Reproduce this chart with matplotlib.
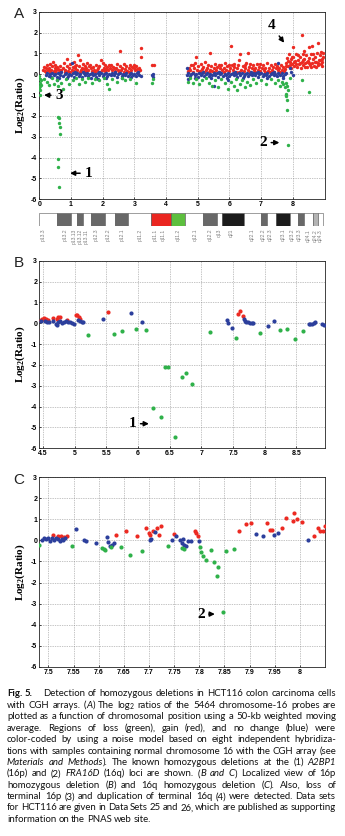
import re
import matplotlib
matplotlib.use("Agg")
import matplotlib.pyplot as plt

### data ###

# panel A: whole chromosome 16, log2 ratio per probe (x in 10 Mb)
a_red = [
    (0.12, 0.20), (0.15, 0.35), (0.18, 0.15), (0.21, 0.28), (0.24, 0.42), (0.27, 0.18), (0.30, 0.30), (0.33, 0.50),
    (0.36, 0.22), (0.39, 0.38), (0.42, 0.60), (0.45, 0.15), (0.48, 0.32), (0.51, 0.45), (0.54, 0.20), (0.57, 0.35),
    (0.60, 0.25), (0.63, 0.12), (0.66, 0.40), (0.70, 0.18), (0.74, 0.30), (0.78, 0.55), (0.82, 0.22), (0.86, 0.40),
    (0.88, 0.75), (0.90, 0.15), (0.94, 0.32), (0.98, 0.48), (1.02, 0.20), (1.05, 0.35), (1.08, 0.60), (1.11, 0.15),
    (1.14, 0.28), (1.17, 0.45), (1.20, 0.22), (1.23, 0.90), (1.25, 0.38), (1.28, 0.70), (1.31, 0.18), (1.34, 0.30),
    (1.37, 0.50), (1.40, 0.25), (1.43, 0.40), (1.46, 0.15), (1.49, 0.32), (1.52, 0.55), (1.55, 0.20), (1.58, 0.38),
    (1.62, 0.28), (1.66, 0.15), (1.70, 0.35), (1.74, 0.22), (1.78, 0.45), (1.82, 0.18), (1.86, 0.30), (1.90, 0.40),
    (1.94, 0.70), (1.97, 0.20), (2.00, 0.55), (2.03, 0.32), (2.06, 0.15), (2.09, 0.42), (2.12, 0.25), (2.15, 0.35),
    (2.18, 0.18), (2.22, 0.28), (2.26, 0.45), (2.30, 0.20), (2.34, 0.35), (2.38, 0.15), (2.42, 0.30), (2.46, 0.48),
    (2.50, 0.22), (2.54, 0.38), (2.56, 1.10), (2.58, 0.18), (2.62, 0.32), (2.66, 0.50), (2.70, 0.25), (2.74, 0.40),
    (2.78, 0.15), (2.82, 0.30), (2.86, 0.45), (2.90, 0.20), (2.94, 0.35), (2.98, 0.28), (3.02, 0.18), (3.06, 0.40),
    (3.10, 0.25), (3.14, 0.32), (3.18, 0.20), (3.20, 1.25), (3.22, 0.85), (3.55, 0.45), (3.62, 0.42),
    (0.20, 0.10), (0.35, 0.12), (0.50, 0.10), (0.65, 0.22), (0.80, 0.12), (0.96, 0.10), (1.12, 0.40), (1.27, 0.12),
    (1.42, 0.10), (1.60, 0.45), (1.75, 0.10), (1.92, 0.12), (2.05, 0.22), (2.20, 0.45), (2.36, 0.28), (2.52, 0.12),
    (2.68, 0.12), (2.84, 0.10), (3.00, 0.45), (3.12, 0.12),
    (4.68, 0.15), (4.72, 0.30), (4.76, 0.20), (4.80, 0.42), (4.84, 0.12), (4.88, 0.28), (4.92, 0.55), (4.95, 0.85),
    (4.98, 0.22), (5.02, 0.38), (5.06, 0.15), (5.10, 0.50), (5.14, 0.25), (5.18, 0.35), (5.22, 0.60), (5.26, 0.18),
    (5.30, 0.30), (5.34, 0.45), (5.38, 0.22), (5.40, 1.00), (5.42, 0.38), (5.46, 0.15), (5.50, 0.32), (5.54, 0.50),
    (5.58, 0.20), (5.62, 0.35), (5.66, 0.12), (5.70, 0.28), (5.74, 0.42), (5.78, 0.18), (5.82, 0.30), (5.86, 0.55),
    (5.90, 0.22), (5.94, 0.38), (5.98, 0.15), (6.02, 0.30), (6.06, 1.35), (6.08, 0.45), (6.12, 0.20), (6.16, 0.35),
    (6.20, 0.12), (6.24, 0.28), (6.28, 0.45), (6.32, 0.70), (6.35, 0.95), (6.38, 0.22), (6.42, 0.38), (6.46, 0.15),
    (6.50, 0.30), (6.54, 0.55), (6.58, 0.20), (6.60, 1.00), (6.62, 0.35), (6.66, 0.12), (6.70, 0.28), (6.74, 0.42),
    (6.78, 0.18), (6.82, 0.30), (6.86, 0.50), (6.90, 0.22), (6.94, 0.35), (6.98, 0.15), (7.02, 0.28), (7.06, 0.42),
    (7.10, 0.20), (7.14, 0.32), (7.18, 0.55), (7.22, 0.15), (7.26, 0.30), (7.30, 0.45), (7.34, 0.20), (7.38, 0.35),
    (7.42, 0.12), (7.46, 0.28), (7.50, 0.40), (7.54, 0.18), (7.58, 0.30), (7.62, 0.45), (7.66, 0.22), (7.70, 0.35),
    (7.74, 0.15), (7.78, 0.40),
    (4.70, 0.10), (4.86, 0.45), (5.04, 0.12), (5.20, 0.12), (5.36, 0.10), (5.52, 0.12), (5.68, 0.45), (5.84, 0.10),
    (6.00, 0.45), (6.14, 0.50), (6.30, 0.10), (6.48, 0.45), (6.64, 0.48), (6.80, 0.10), (6.96, 0.48), (7.12, 0.10),
    (7.28, 0.12), (7.44, 0.48), (7.60, 0.12), (7.76, 0.25),
    (7.80, 0.55), (7.83, 0.80), (7.86, 0.40), (7.88, 0.95), (7.91, 0.60), (7.94, 0.30), (7.96, 0.75), (7.99, 0.50),
    (8.00, 1.30), (8.02, 0.85), (8.05, 0.40), (8.08, 0.65), (8.10, 0.95), (8.13, 0.35), (8.16, 0.70), (8.19, 0.50),
    (8.22, 0.85), (8.25, 0.30), (8.28, 0.60), (8.30, 1.90), (8.31, 0.95), (8.34, 0.45), (8.37, 0.75), (8.40, 0.55),
    (8.43, 0.90), (8.46, 0.35), (8.49, 0.65), (8.50, 1.30), (8.52, 0.80), (8.55, 0.45), (8.58, 0.95), (8.60, 1.35),
    (8.61, 0.55), (8.64, 0.75), (8.67, 0.40), (8.70, 0.85), (8.73, 0.60), (8.76, 1.00), (8.79, 0.45), (8.80, 1.50),
    (8.82, 0.70), (8.85, 0.90), (8.88, 0.50), (8.91, 0.75), (8.94, 0.60), (8.97, 0.85),
    (7.85, 0.65), (7.92, 0.45), (7.98, 0.85), (8.04, 0.60), (8.11, 0.50), (8.18, 0.90), (8.24, 0.55), (8.33, 0.70),
    (8.39, 0.35), (8.45, 0.60), (8.53, 0.55), (8.57, 0.35), (8.63, 0.95), (8.69, 0.60), (8.75, 0.35), (8.81, 0.55),
    (8.87, 0.70), (8.93, 0.40), (8.96, 1.00), (8.35, 1.10), (8.90, 1.05),
]
a_blue = [
    (0.20, -0.05), (0.25, 0.05), (0.30, -0.10), (0.35, 0.00), (0.40, 0.08), (0.45, -0.05), (0.50, 0.02), (0.55, -0.12),
    (0.60, 0.05), (0.65, -0.02), (0.70, 0.10), (0.75, -0.08), (0.80, 0.00), (0.85, 0.05), (0.90, -0.10), (0.95, 0.02),
    (1.00, -0.05), (1.04, 0.52), (1.05, 0.08), (1.10, -0.12), (1.15, 0.00), (1.20, 0.05), (1.25, -0.08), (1.30, 0.02),
    (1.35, -0.15), (1.40, 0.05), (1.45, -0.02), (1.50, 0.08), (1.55, -0.10), (1.60, 0.00), (1.65, 0.05), (1.70, -0.05),
    (1.75, 0.02), (1.80, -0.12), (1.85, 0.05), (1.90, -0.02), (1.95, 0.08), (2.00, -0.08), (2.05, 0.00), (2.10, 0.05),
    (2.15, -0.10), (2.20, 0.02), (2.25, -0.05), (2.30, 0.08), (2.35, -0.02), (2.40, 0.05), (2.45, -0.12), (2.50, 0.00),
    (2.55, 0.05), (2.60, -0.08), (2.65, 0.02), (2.70, -0.05), (2.75, 0.08), (2.80, -0.10), (2.85, 0.00), (2.90, 0.05),
    (2.95, -0.05), (3.00, 0.02), (3.05, -0.10), (3.10, 0.05), (3.15, -0.02), (3.20, -0.08), (3.55, -0.05), (3.60, 0.00),
    (3.58, -0.12),
    (0.38, -0.15), (0.62, -0.18), (0.88, -0.18), (1.12, 0.12), (1.38, 0.10), (1.62, -0.18), (1.88, 0.12), (2.12, -0.18),
    (2.38, 0.12), (2.62, -0.18), (2.88, -0.15), (3.12, 0.10), (0.55, -0.30), (1.85, -0.25),
    (4.65, 0.30), (4.66, -0.05), (4.70, 0.05), (4.75, -0.10), (4.80, 0.00), (4.85, 0.08), (4.90, -0.05), (4.95, 0.02),
    (5.00, -0.12), (5.05, 0.05), (5.10, -0.02), (5.15, 0.08), (5.20, -0.08), (5.25, 0.00), (5.30, 0.05), (5.35, -0.10),
    (5.40, 0.02), (5.45, -0.05), (5.50, 0.08), (5.55, -0.02), (5.60, 0.05), (5.65, -0.12), (5.70, 0.00), (5.75, 0.05),
    (5.80, -0.08), (5.85, 0.02), (5.90, -0.05), (5.95, 0.08), (6.00, -0.10), (6.05, 0.00), (6.10, 0.05), (6.15, -0.05),
    (6.20, 0.02), (6.25, -0.12), (6.30, 0.05), (6.35, -0.02), (6.40, 0.08), (6.45, -0.08), (6.50, 0.00), (6.55, 0.05),
    (6.60, -0.10), (6.65, 0.02), (6.70, -0.05), (6.75, 0.08), (6.80, -0.02), (6.85, 0.05), (6.90, -0.12), (6.95, 0.00),
    (7.00, 0.05), (7.05, -0.08), (7.10, 0.02), (7.15, -0.05), (7.20, 0.08), (7.25, -0.10), (7.30, 0.00), (7.35, 0.05),
    (7.40, -0.05), (7.45, 0.02), (7.50, -0.08), (7.54, 0.55), (7.55, 0.05), (7.60, -0.02), (7.65, 0.08), (7.70, -0.10),
    (7.75, 0.00), (7.80, 0.05), (7.90, 0.30), (7.95, 0.10), (8.00, -0.05),
    (4.68, -0.25), (4.92, -0.18), (5.18, 0.12), (5.42, -0.18), (5.68, 0.12), (5.92, -0.18), (6.18, 0.12), (6.42, -0.18),
    (6.68, 0.12), (6.92, 0.12), (7.18, -0.18), (7.42, 0.12), (7.68, -0.18), (5.50, -0.55), (5.95, -0.30),
]
a_green = [
    (0.00, -0.10), (0.02, -0.25), (0.01, -0.40), (0.03, -0.55), (0.00, -0.65), (0.02, -0.75), (0.04, -0.30), (0.05, -0.50),
    (0.01, -1.00),
    (0.15, -0.25), (0.25, -0.35), (0.30, -0.50), (0.40, -0.20), (0.45, -0.45), (0.55, -0.30), (0.60, -0.55), (0.70, -0.40),
    (0.75, -0.70), (0.85, -0.25), (0.95, -0.45), (1.05, -0.30), (1.15, -0.20), (1.25, -0.45), (1.35, -0.25), (1.45, -0.35),
    (1.55, -0.20), (1.65, -0.40), (1.75, -0.25), (1.90, -0.30), (2.05, -0.20), (2.15, -0.45), (2.20, -0.70), (2.30, -0.25),
    (2.45, -0.35), (2.60, -0.20), (2.70, -0.30), (2.85, -0.25), (3.05, -0.40), (3.55, -0.40), (3.58, -0.25),
    (0.60, -2.05), (0.62, -2.10), (0.63, -2.35), (0.64, -2.55), (0.66, -2.85), (0.60, -4.05), (0.60, -4.45), (0.62, -5.40),
    (4.70, -0.35), (4.75, -0.20), (4.85, -0.40), (4.95, -0.25), (5.05, -0.45), (5.15, -0.30), (5.25, -0.20), (5.35, -0.40),
    (5.45, -0.55), (5.55, -0.30), (5.65, -0.60), (5.75, -0.25), (5.85, -0.40), (5.95, -0.70), (6.05, -0.35), (6.15, -0.55),
    (6.20, -0.25), (6.25, -0.75), (6.35, -0.45), (6.40, -0.30), (6.50, -0.60), (6.55, -0.35), (6.65, -0.50), (6.75, -0.25),
    (6.85, -0.40), (7.00, -0.30), (7.15, -0.45), (7.30, -0.25), (7.45, -0.40), (7.55, -0.30), (7.60, -0.55), (7.65, -0.35),
    (7.70, -0.45), (7.75, -0.60), (7.80, -0.40), (7.82, -0.55), (7.84, -0.75), (7.78, -0.95), (7.80, -1.05), (7.83, -1.25),
    (7.82, -1.70), (7.84, -3.40), (8.30, -0.30), (8.50, -0.85), (7.90, -0.20),
]

# panel B: 16p homozygous deletion (A2BP1)
b_red = [
    (4.46, 0.18), (4.49, 0.22), (4.52, 0.25), (4.55, 0.20), (4.58, 0.15), (4.66, 0.25), (4.72, 0.22), (4.74, 0.32),
    (4.76, 0.28), (4.88, 0.15), (5.02, 0.42), (5.04, 0.38), (5.06, 0.30), (5.08, 0.20), (5.52, 0.52),
    (7.58, 0.45), (7.61, 0.60), (7.65, 0.35),
]
b_blue = [
    (4.47, 0.10), (4.53, 0.12), (4.56, 0.08), (4.60, 0.05), (4.66, 0.10), (4.70, -0.05), (4.72, -0.10), (4.74, 0.05),
    (4.77, 0.12), (4.80, 0.00), (4.83, 0.05), (4.86, 0.10), (4.90, 0.08), (4.93, 0.05), (4.96, 0.00), (4.98, -0.05),
    (5.05, 0.15), (5.08, 0.10), (5.11, 0.05), (5.13, 0.05), (5.45, 0.22), (5.88, 0.48), (6.06, 0.05),
    (7.40, 0.17), (7.42, 0.03), (7.48, -0.24), (7.67, 0.20), (7.69, 0.12), (7.71, 0.08), (7.73, 0.04), (7.76, 0.02),
    (7.79, 0.00), (7.81, 0.00), (8.05, -0.13), (8.15, 0.10), (8.69, -0.02), (8.72, -0.05), (8.75, -0.03), (8.77, 0.02),
    (8.79, 0.05), (8.90, -0.05), (8.93, -0.09),
]
b_green = [
    (5.21, -0.57), (5.62, -0.53), (5.75, -0.35), (5.96, -0.27), (6.13, -0.30), (6.24, -4.08), (6.36, -4.48),
    (6.43, -2.12), (6.47, -2.08), (6.59, -5.48), (6.70, -2.58), (6.76, -2.40), (6.85, -2.90), (7.14, -0.40),
    (7.54, -0.72), (7.92, -0.47), (8.24, -0.30), (8.35, -0.25), (8.48, -0.76), (8.60, -0.35),
]

# panel C: 16q homozygous deletion (FRA16D)
c_red = [
    (7.510, 0.27), (7.520, 0.20), (7.526, 0.22), (7.531, 0.18), (7.537, 0.20), (7.634, 0.24), (7.654, 0.43),
    (7.677, 0.20), (7.694, 0.58), (7.700, 0.35), (7.703, 0.28), (7.709, 0.43), (7.716, 0.58), (7.719, 0.27),
    (7.724, 0.68), (7.750, 0.31), (7.791, 0.45), (7.794, 0.35), (7.797, 0.23), (7.880, 0.43), (7.893, 0.79),
    (7.902, 0.85), (7.934, 0.85), (7.940, 0.50), (7.945, 0.48), (7.964, 0.60), (7.972, 1.05), (7.986, 0.90),
    (7.989, 1.29), (7.995, 1.00), (8.005, 0.87), (8.028, 0.20), (8.036, 0.60), (8.041, 0.45), (8.046, 0.45),
    (8.050, 0.68),
]
c_blue = [
    (7.488, 0.00), (7.492, 0.10), (7.496, 0.05), (7.500, 0.12), (7.504, -0.02), (7.508, 0.10), (7.512, 0.00),
    (7.516, 0.12), (7.520, 0.05), (7.524, -0.05), (7.527, 0.08), (7.530, 0.00), (7.534, 0.10), (7.555, 0.52),
    (7.570, 0.02), (7.575, -0.05), (7.594, -0.12), (7.616, 0.14), (7.618, -0.08), (7.623, -0.25), (7.627, -0.20),
    (7.631, -0.10), (7.702, 0.02), (7.705, 0.08), (7.712, 0.40), (7.745, 0.02), (7.753, 0.22), (7.762, 0.00),
    (7.765, -0.10), (7.768, 0.05), (7.770, -0.20), (7.773, -0.25), (7.777, -0.05), (7.783, -0.02), (7.800, -0.03),
    (7.913, 0.30), (7.926, 0.20), (7.949, 0.25), (7.957, 0.35), (8.017, 0.00),
]
c_green = [
    (7.482, -0.20), (7.548, -0.25), (7.606, -0.37), (7.611, -0.42), (7.613, -0.45), (7.625, -0.30), (7.645, -0.30),
    (7.662, -0.67), (7.686, -0.48), (7.738, -0.25), (7.765, -0.35), (7.770, -0.40), (7.801, -0.30), (7.804, -0.55),
    (7.808, -0.73), (7.813, -0.92), (7.823, -0.45), (7.830, -1.02), (7.837, -1.24), (7.835, -1.70), (7.847, -3.38),
    (7.854, -0.50), (7.869, -0.40),
]

# chromosome 16 ideogram (same x scale as panel A)
band_starts = [0.00, 0.57, 0.99, 1.20, 1.39, 1.62, 2.07, 2.39, 2.81, 3.52, 4.15, 4.60,
               5.16, 5.60, 5.76, 6.46, 6.99, 7.20, 7.47, 7.92, 8.16, 8.36, 8.63, 8.81]
band_ends = [0.57, 0.99, 1.20, 1.39, 1.62, 2.07, 2.39, 2.81, 3.52, 4.15, 4.60, 5.16,
             5.60, 5.76, 6.46, 6.99, 7.20, 7.47, 7.92, 8.16, 8.36, 8.63, 8.81, 8.97]
band_stains = ["gneg", "gpos75", "gneg", "gpos75", "gneg", "gpos75", "gneg", "gpos75", "gneg", "acen_p", "acen_q", "gneg",
               "gpos75", "gneg", "gpos100", "gneg", "gpos75", "gneg", "gpos100", "gneg", "gpos75", "gneg", "gpos25", "gneg"]
band_names = ["p13.3", "p13.2", "p13.13", "p13.12", "p13.11", "p12.3", "p12.2", "p12.1", "p11.2", "p11.1", "q11.1",
              "q11.2", "q12.1", "q12.2", "q13", "q21", "q22.1", "q22.2", "q22.3", "q23.1", "q23.2", "q23.3",
              "q24.1", "q24.2", "q24.3"]
band_name_x = [0.13, 0.81, 1.10, 1.29, 1.47, 1.81, 2.18, 2.60, 3.18, 3.65, 3.92, 4.39, 4.92, 5.41, 5.68,
               6.07, 6.71, 7.07, 7.28, 7.69, 8.00, 8.21, 8.49, 8.71, 8.86]

a_xticks = [0, 1, 2, 3, 4, 5, 6, 7, 8]
b_xticks = [4.5, 5, 5.5, 6, 6.5, 7, 7.5, 8, 8.5]
c_xticks = [7.5, 7.55, 7.6, 7.65, 7.7, 7.75, 7.8, 7.85, 7.9, 7.95, 8.0]
y_ticks = [-6, -5, -4, -3, -2, -1, 0, 1, 2, 3]

caption_head = "[Fig.] [5.]"
caption_lines = [
    "Detection of homozygous deletions in HCT116 colon carcinoma cells",
    "with CGH arrays. ({A}) The log<2> ratios of the 5464 chromosome-16 probes are",
    "plotted as a function of chromosomal position using a 50-kb weighted moving",
    "average. Regions of loss (green), gain (red), and no change (blue) were",
    "color-coded by using a noise model based on eight independent hybridiza-",
    "tions with samples containing normal chromosome 16 with the CGH array (see",
    "{Materials} {and} {Methods}). The known homozygous deletions at the (1) {A2BP1}",
    "(16p) and (2) {FRA16D} (16q) loci are shown. ({B} {and} {C}) Localized view of 16p",
    "homozygous deletion ({B}) and 16q homozygous deletion ({C}). Also, loss of",
    "terminal 16p (3) and duplication of terminal 16q (4) were detected. Data sets",
    "for HCT116 are given in Data Sets 25 and 26, which are published as supporting",
    "information on the PNAS web site.",
]

### style ###
W, H = 345, 836
RED, BLUE, GREEN = "#ec2a22", "#2c3f9c", "#2fb14a"
STAIN_COLORS = {"gneg": "#ffffff", "gpos25": "#b4b4b4", "gpos75": "#686868", "gpos100": "#1c1c1c",
                "acen_p": "#ea2620", "acen_q": "#5dbf3e"}
TICK_FONT = dict(family="Liberation Sans", weight="bold", size=5)
NUM_FONT = dict(family="Liberation Serif", weight="bold", fontsize=11)
CAP_FONT = "Lato"

plt.rcParams["font.family"] = ["Liberation Sans", "DejaVu Sans"]
plt.rcParams["mathtext.default"] = "regular"


def px_rect(x0, y0, x1, y1):
    # pixel box (top-left origin) -> figure fractions
    return [x0 / W, 1 - y1 / H, (x1 - x0) / W, (y1 - y0) / H]


def scatter_panel(ax, red, blue, green, size):
    for pts, col in ((red, RED), (blue, BLUE), (green, GREEN)):
        xs, ys = zip(*pts)
        ax.scatter(xs, ys, s=size, color=col, marker="o", linewidths=0, zorder=3, clip_on=True)


def style_panel(ax, xlim, xticks, xticklabels):
    ax.set_xlim(*xlim)
    ax.set_ylim(-6, 3)
    ax.set_xticks(xticks)
    ax.set_xticklabels(xticklabels, fontdict=TICK_FONT)
    ax.set_yticks(y_ticks)
    ax.set_yticklabels([str(v) for v in y_ticks], fontdict=TICK_FONT)
    ax.tick_params(direction="in", length=1.5, width=0.5, pad=1.5)
    ax.grid(True, linestyle=(0, (1, 1.5)), color="#8a8a8a", linewidth=0.5)
    for sp in ax.spines.values():
        sp.set_linewidth(0.6)
        sp.set_color("#222222")
    ax.set_ylabel("Log$_2$(Ratio)", family="Liberation Serif", weight="bold", fontsize=8, va="center")
    ax.yaxis.set_label_coords(-0.068, 0.5)


def arrow_label(ax, text, head, textpos, ha):
    ax.annotate(text, xy=head, xytext=textpos, ha=ha, va="center", **NUM_FONT,
                arrowprops=dict(arrowstyle="-|>", color="black", lw=1.1, mutation_scale=7,
                                shrinkA=1, shrinkB=0), zorder=5)


SEG = re.compile(r"\{[^}]*\}|\[[^\]]*\]|<[^>]*>|[^{\[<]+")


def make_words(fig, renderer, text, fs):
    # one list of (artist, width, baseline shift) per word
    words = []
    for w in text.split(" "):
        parts = []
        for seg in SEG.findall(w):
            kw = dict(fontsize=fs, family=CAP_FONT, color="#111111")
            dy = 0.0
            if seg[0] == "{":
                seg = seg[1:-1]
                kw["style"] = "italic"
            elif seg[0] == "[":
                seg = seg[1:-1]
                kw["weight"] = "bold"
            elif seg[0] == "<":
                seg = seg[1:-1]
                kw["fontsize"] = fs * 0.7
                dy = 1.5
            t = fig.text(0, 0, seg, ha="left", va="baseline", **kw)
            parts.append((t, t.get_window_extent(renderer).width, dy))
        words.append(parts)
    return words


def natural_width(fig, renderer, text, fs):
    words = make_words(fig, renderer, text, fs)
    total = sum(wd for parts in words for _, wd, _ in parts)
    for parts in words:
        for t, _, _ in parts:
            t.remove()
    return total, len(words)


def caption_line(fig, renderer, text, x0, x1, yc, fs, justify=True):
    words = make_words(fig, renderer, text, fs)
    widths = [sum(wd for _, wd, _ in parts) for parts in words]
    if justify and len(words) > 1:
        gap = (x1 - x0 - sum(widths)) / (len(words) - 1)
    else:
        gap = fs * 0.3
    x = x0
    base = yc + 3
    for parts in words:
        for t, wd, dy in parts:
            t.set_position((x / W, 1 - (base + dy) / H))
            x += wd
        x += gap


### figure ###
fig = plt.figure(figsize=(W / 100, H / 100), dpi=100)

# panel A
ax_a = fig.add_axes(px_rect(39.3, 11.7, 325, 199.3))
scatter_panel(ax_a, a_red, a_blue, a_green, 6)
style_panel(ax_a, (0, 9.02), a_xticks, [str(v) for v in a_xticks])
arrow_label(ax_a, "3", (0.15, -1.0), (0.50, -1.02), "left")
arrow_label(ax_a, "1", (0.97, -4.75), (1.42, -4.75), "left")
arrow_label(ax_a, "2", (7.58, -3.28), (7.19, -3.28), "right")
arrow_label(ax_a, "4", (7.73, 1.51), (7.34, 2.32), "center")

# ideogram
ax_i = fig.add_axes(px_rect(39.3, 212.7, 325, 225.7))
for s, e, st in zip(band_starts, band_ends, band_stains):
    ax_i.barh(0, e - s, left=s, height=1, color=STAIN_COLORS[st], edgecolor="#555555", linewidth=0.4)
ax_i.set_xlim(0, 9.02)
ax_i.set_ylim(-0.5, 0.5)
ax_i.axis("off")
for name, x in zip(band_names, band_name_x):
    ax_i.text(x, -0.75, name, rotation=90, ha="center", va="top", fontsize=3.6, color="#808080",
              family="Liberation Sans")

# panel B
ax_b = fig.add_axes(px_rect(39.3, 260.8, 325, 448.3))
scatter_panel(ax_b, b_red, b_blue, b_green, 9)
style_panel(ax_b, (4.44, 8.95), b_xticks, ["4.5", "5", "5.5", "6", "6.5", "7", "7.5", "8", "8.5"])
arrow_label(ax_b, "1", (6.17, -4.82), (5.85, -4.82), "left")

# panel C
ax_c = fig.add_axes(px_rect(39.3, 477.3, 325, 666.7))
scatter_panel(ax_c, c_red, c_blue, c_green, 9)
style_panel(ax_c, (7.482, 8.05), c_xticks,
            ["7.5", "7.55", "7.6", "7.65", "7.7", "7.75", "7.8", "7.85", "7.9", "7.95", "8"])
arrow_label(ax_c, "2", (7.831, -3.5), (7.811, -3.5), "right")

# panel letters
for letter, yc in (("A", 14), ("B", 263), ("C", 480)):
    fig.text(19 / W, 1 - yc / H, letter, ha="center", va="center", fontsize=11, family="Liberation Sans",
             color="#222222")

# caption: font size chosen so the tightest justified line still has ~1.6 px word gaps
renderer = fig.canvas.get_renderer()
LEFT, RIGHT = 7, 336
fs0 = 6.0
fit = []
for i, line in enumerate(caption_lines[:-1]):
    x0 = 43 if i == 0 else LEFT
    nat, n = natural_width(fig, renderer, line, fs0)
    fit.append(fs0 * (RIGHT - x0 - 1.6 * (n - 1)) / nat)
fs = min(fit)

y0, dy = 693.5, 11.4
caption_line(fig, renderer, caption_head, LEFT, None, y0, fs, justify=False)
caption_line(fig, renderer, caption_lines[0], 43, RIGHT, y0, fs)
for i, line in enumerate(caption_lines[1:], start=1):
    caption_line(fig, renderer, line, LEFT, RIGHT, y0 + i * dy, fs, justify=(i < len(caption_lines) - 1))

fig.savefig("out.png", dpi=100)
